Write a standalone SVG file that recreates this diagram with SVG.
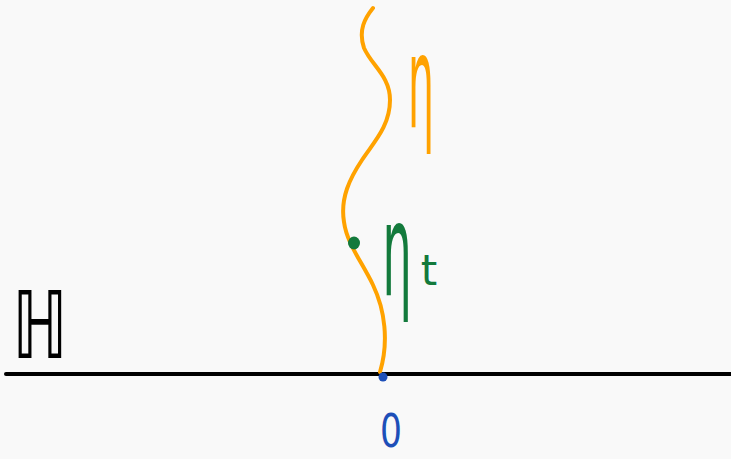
<svg xmlns="http://www.w3.org/2000/svg" width="731" height="459" viewBox="0 0 731 459">
<style>
.stroke{fill:none;stroke-linecap:round;stroke-linejoin:round}
.lbl{font-family:"DejaVu Sans",sans-serif;text-anchor:middle}
</style>
<rect width="731" height="459" fill="#f9f9f9"/>
<g id="axis">
<line x1="6" y1="374" x2="731" y2="374" stroke="#000" stroke-width="4" class="stroke"/>
<text class="lbl" transform="translate(40,358) scale(0.7,1)" font-size="93" fill="#000">ℍ</text>
</g>
<g id="connectors">
<path class="stroke" stroke="#FFA200" stroke-width="4" d="M373,8 C365,18 358,30 364,48 C372,66 390,76 390,100 C390,126 374,142 362,160 C350,178 340,198 344,222 C347,244 362,262 373,285 C385,310 389,342 380,372"/>
</g>
<g id="eta">
<text class="lbl" transform="translate(421,127) scale(0.32,1)" font-size="128" fill="#FFA200">η</text>
</g>
<g id="eta_t">
<ellipse cx="354" cy="243" rx="6" ry="6.5" fill="#137a3c"/>
<text class="lbl" transform="translate(397,295) scale(0.36,1)" font-size="128" fill="#137a3c">η</text>
<text class="lbl" x="429" y="285" font-size="42" fill="#137a3c">t</text>
</g>
<g id="origin">
<ellipse cx="383" cy="377" rx="4.5" ry="4.5" fill="#1d4fb8"/>
<text class="lbl" transform="translate(391,447) scale(0.75,1)" font-size="46" fill="#1d4fb8">0</text>
</g>
</svg>
